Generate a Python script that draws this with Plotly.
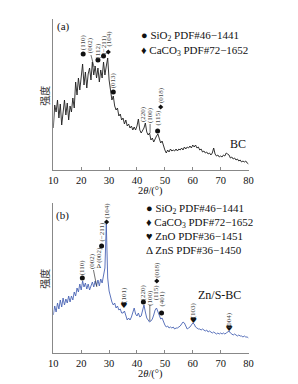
import plotly.graph_objects as go

# ---------------- data ----------------
two_theta = [10 + 0.5 * i for i in range(141)]  # 10 .. 80 deg sampling grid

bc_intensity = [
    42, 65, 58, 70, 52, 66, 45, 62, 70, 55,
    67, 50, 64, 58, 72, 62, 88, 75, 92, 80,
    94, 106, 85, 98, 82, 96, 102, 90, 108, 95,
    104, 92, 102, 88, 100, 92, 108, 95, 104, 112,
    90, 80, 70, 74, 64, 60, 62, 54, 56, 50,
    52, 46, 50, 44, 46, 42, 44, 40, 43, 40,
    44, 51, 40, 37, 40, 42, 47, 38, 35, 37,
    30, 32, 28, 32, 34, 36, 30, 27, 29, 23,
    20, 17, 20, 18, 21, 19, 20, 19, 21, 19,
    21, 20, 22, 20, 23, 21, 23, 22, 24, 22,
    25, 23, 25, 22, 23, 20, 21, 18, 19, 17,
    18, 16, 17, 15, 17, 22, 16, 14, 15, 13,
    14, 13, 15, 14, 17, 16, 15, 12, 13, 11,
    12, 10, 11, 9, 10, 8, 9, 8, 9, 7,
    6,
]

znsbc_intensity = [
    38, 47, 41, 50, 44, 53, 46, 55, 48, 54,
    50, 57, 51, 57, 53, 61, 57, 65, 61, 69,
    63, 72, 66, 70, 64, 69, 63, 68, 71, 66,
    72, 67, 73, 67, 74, 70, 77, 85, 129, 75,
    62, 55, 51, 48, 50, 45, 47, 43, 44, 40,
    40, 42, 37, 33, 35, 33, 36, 41, 45, 39,
    37, 40, 36, 37, 43, 48, 41, 35, 33, 31,
    32, 34, 38, 43, 45, 41, 36, 34, 35, 31,
    28, 26, 27, 25, 26, 25, 26, 24, 25, 25,
    26, 27, 29, 31, 30, 26, 24, 25, 26, 28,
    30, 29, 26, 25, 24, 24, 23, 24, 23, 22,
    23, 21, 22, 21, 20, 21, 20, 19, 20, 19,
    20, 19, 20, 19, 20, 21, 22, 20, 19, 18,
    19, 18, 17, 18, 17, 17, 16, 17, 16, 16,
    15,
]

tick_values = [10, 20, 30, 40, 50, 60, 70, 80]

# panel (a) phase markers
a_circle_x = [20.7, 26.0, 28.0, 31.5, 47.4]
a_circle_y = [116, 110, 114, 78, 39]
a_diamond_x = [29.7, 48.5]
a_diamond_y = [118, 63]
a_label_text = ["(110)", "(002)", "(112)", "(−211)", "(104)", "(013)", "(220)", "(100)", "(115)", "(018)"]
a_label_x = [20.7, 23.2, 25.9, 28.0, 29.8, 31.5, 42.2, 44.7, 47.4, 48.6]
a_label_y = [128, 125, 119, 125, 131, 90, 56, 55, 52, 75]
a_leader_x0 = [23.5, 44.7]
a_leader_y0 = [115, 46]
a_leader_x1 = [24.6, 44.7]
a_leader_y1 = [103, 37]

# panel (b) phase markers
b_circle_x = [20.4, 27.3, 42.3, 48.8]
b_circle_y = [75, 107, 51, 40]
b_diamond_x = [29.1, 47.1]
b_diamond_y = [131, 72]
b_heart_x = [35.3, 60.2, 73.0]
b_heart_y = [47, 32, 24]
b_delta_x = [26.3]
b_delta_y = [87]
b_label_text = ["(110)", "(002)", "(002)", "(−211)", "(104)", "(101)", "(220)", "(100)", "(018)", "(115)", "(401)", "(103)", "(004)"]
b_label_x = [20.4, 23.9, 26.3, 27.3, 29.1, 35.3, 42.3, 44.6, 47.1, 46.9, 48.8, 60.2, 73.0]
b_label_y = [86, 92, 98, 121, 142, 58, 61, 55, 83, 61, 54, 43, 33]
b_leader_x0 = [24.4, 44.6]
b_leader_y0 = [83, 48]
b_leader_x1 = [25.6, 44.6]
b_leader_y1 = [66, 32]

legend_a = ["● SiO<sub>2</sub> PDF#46−1441", "♦ CaCO<sub>3</sub> PDF#72−1652"]
legend_b = ["● SiO<sub>2</sub> PDF#46−1441", "♦ CaCO<sub>3</sub> PDF#72−1652",
            "♥ ZnO PDF#36−1451", "Δ ZnS PDF#36−1450"]

# ---------------- figure ----------------
W, H = 298, 384
SERIF = "Liberation Serif, Times New Roman, serif"


def px(x):
    return x / W


def py(y):
    return 1 - y / H


fig = go.Figure()

fig.add_trace(go.Scatter(x=two_theta, y=bc_intensity, mode="lines",
                         line=dict(color="#1e1e1e", width=0.9),
                         xaxis="x", yaxis="y", hoverinfo="skip"))
fig.add_trace(go.Scatter(x=two_theta, y=znsbc_intensity, mode="lines",
                         line=dict(color="#4a64b4", width=0.9),
                         xaxis="x2", yaxis="y2", hoverinfo="skip"))

mk = dict(color="#111111")
fig.add_trace(go.Scatter(x=a_circle_x, y=a_circle_y, mode="markers",
                         marker=dict(symbol="circle", size=5, **mk), xaxis="x", yaxis="y"))
fig.add_trace(go.Scatter(x=a_diamond_x, y=a_diamond_y, mode="markers",
                         marker=dict(symbol="diamond", size=4, **mk), xaxis="x", yaxis="y"))
fig.add_trace(go.Scatter(x=b_circle_x, y=b_circle_y, mode="markers",
                         marker=dict(symbol="circle", size=5, **mk), xaxis="x2", yaxis="y2"))
fig.add_trace(go.Scatter(x=b_diamond_x, y=b_diamond_y, mode="markers",
                         marker=dict(symbol="diamond", size=4, **mk), xaxis="x2", yaxis="y2"))
fig.add_trace(go.Scatter(x=b_heart_x, y=b_heart_y, mode="text", text=["♥"] * len(b_heart_x),
                         textfont=dict(size=8, color="#111111", family="DejaVu Sans"),
                         xaxis="x2", yaxis="y2"))
fig.add_trace(go.Scatter(x=b_delta_x, y=b_delta_y, mode="text", text=["Δ"] * len(b_delta_x),
                         textfont=dict(size=7, color="#111111", family=SERIF),
                         xaxis="x2", yaxis="y2"))

annotations = []
for t, x, y in zip(a_label_text, a_label_x, a_label_y):
    annotations.append(dict(text=t, x=x, y=y, xref="x", yref="y", showarrow=False,
                            textangle=-90, font=dict(family=SERIF, size=7, color="#444444"),
                            xanchor="center", yanchor="middle"))
for t, x, y in zip(b_label_text, b_label_x, b_label_y):
    annotations.append(dict(text=t, x=x, y=y, xref="x2", yref="y2", showarrow=False,
                            textangle=-90, font=dict(family=SERIF, size=7, color="#444444"),
                            xanchor="center", yanchor="middle"))

shapes = []
for x0, y0, x1, y1 in zip(a_leader_x0, a_leader_y0, a_leader_x1, a_leader_y1):
    shapes.append(dict(type="line", x0=x0, y0=y0, x1=x1, y1=y1, xref="x", yref="y",
                       line=dict(color="#333333", width=0.7)))
for x0, y0, x1, y1 in zip(b_leader_x0, b_leader_y0, b_leader_x1, b_leader_y1):
    shapes.append(dict(type="line", x0=x0, y0=y0, x1=x1, y1=y1, xref="x2", yref="y2",
                       line=dict(color="#333333", width=0.7)))

# legends as text
for i, t in enumerate(legend_a):
    annotations.append(dict(text=t, x=px(139), y=py(36 + 15 * i), xref="paper", yref="paper",
                            showarrow=False, xanchor="left", yanchor="middle",
                            font=dict(family=SERIF, size=11, color="#111111")))
for i, t in enumerate(legend_b):
    annotations.append(dict(text=t, x=px(144), y=py(209 + 13.7 * i), xref="paper", yref="paper",
                            showarrow=False, xanchor="left", yanchor="middle",
                            font=dict(family=SERIF, size=11, color="#111111")))

# panel tags, sample names, axis titles
txt = dict(xref="paper", yref="paper", showarrow=False)
annotations += [
    dict(text="(a)", x=px(52), y=py(26), xanchor="left", yanchor="middle",
         font=dict(family=SERIF, size=11, color="#111111"), **txt),
    dict(text="(b)", x=px(51), y=py(215), xanchor="left", yanchor="middle",
         font=dict(family=SERIF, size=11, color="#111111"), **txt),
    dict(text="BC", x=px(241), y=py(144), xanchor="center", yanchor="middle",
         font=dict(family=SERIF, size=12, color="#111111"), **txt),
    dict(text="Zn/S-BC", x=px(222), y=py(295), xanchor="center", yanchor="middle",
         font=dict(family=SERIF, size=12, color="#111111"), **txt),
    dict(text="2<i>θ</i>/(°)", x=px(151), y=py(191), xanchor="center", yanchor="middle",
         font=dict(family=SERIF, size=10.5, color="#111111"), **txt),
    dict(text="2<i>θ</i>/(°)", x=px(151), y=py(374), xanchor="center", yanchor="middle",
         font=dict(family=SERIF, size=10.5, color="#111111"), **txt),
    dict(text="强度", x=px(40), y=py(96), xanchor="center", yanchor="middle", textangle=-90,
         font=dict(family="Noto Sans CJK SC", size=10, color="#333333"), **txt),
    dict(text="强度", x=px(40), y=py(279), xanchor="center", yanchor="middle", textangle=-90,
         font=dict(family="Noto Sans CJK SC", size=10, color="#333333"), **txt),
]

xdom = [px(50), px(252)]
xaxis_common = dict(range=[10, 80], showline=True, linecolor="#888888", linewidth=1,
                    ticks="inside", ticklen=3, tickcolor="#888888", tickvals=tick_values,
                    showgrid=False, zeroline=False,
                    tickfont=dict(family=SERIF, size=10.5, color="#111111"), domain=xdom)
yaxis_common = dict(showline=True, linecolor="#888888", linewidth=1, ticks="",
                    showticklabels=False, showgrid=False, zeroline=False)

fig.update_layout(
    width=W, height=H, autosize=False,
    margin=dict(l=0, r=0, t=0, b=0),
    paper_bgcolor="white", plot_bgcolor="white",
    showlegend=False,
    xaxis=dict(anchor="y", **xaxis_common),
    yaxis=dict(anchor="x", range=[0, 151], domain=[py(170), py(19)], **yaxis_common),
    xaxis2=dict(anchor="y2", **xaxis_common),
    yaxis2=dict(anchor="x2", range=[0, 150], domain=[py(353), py(203)], **yaxis_common),
    annotations=annotations,
    shapes=shapes,
)

fig.write_html("out.html")
